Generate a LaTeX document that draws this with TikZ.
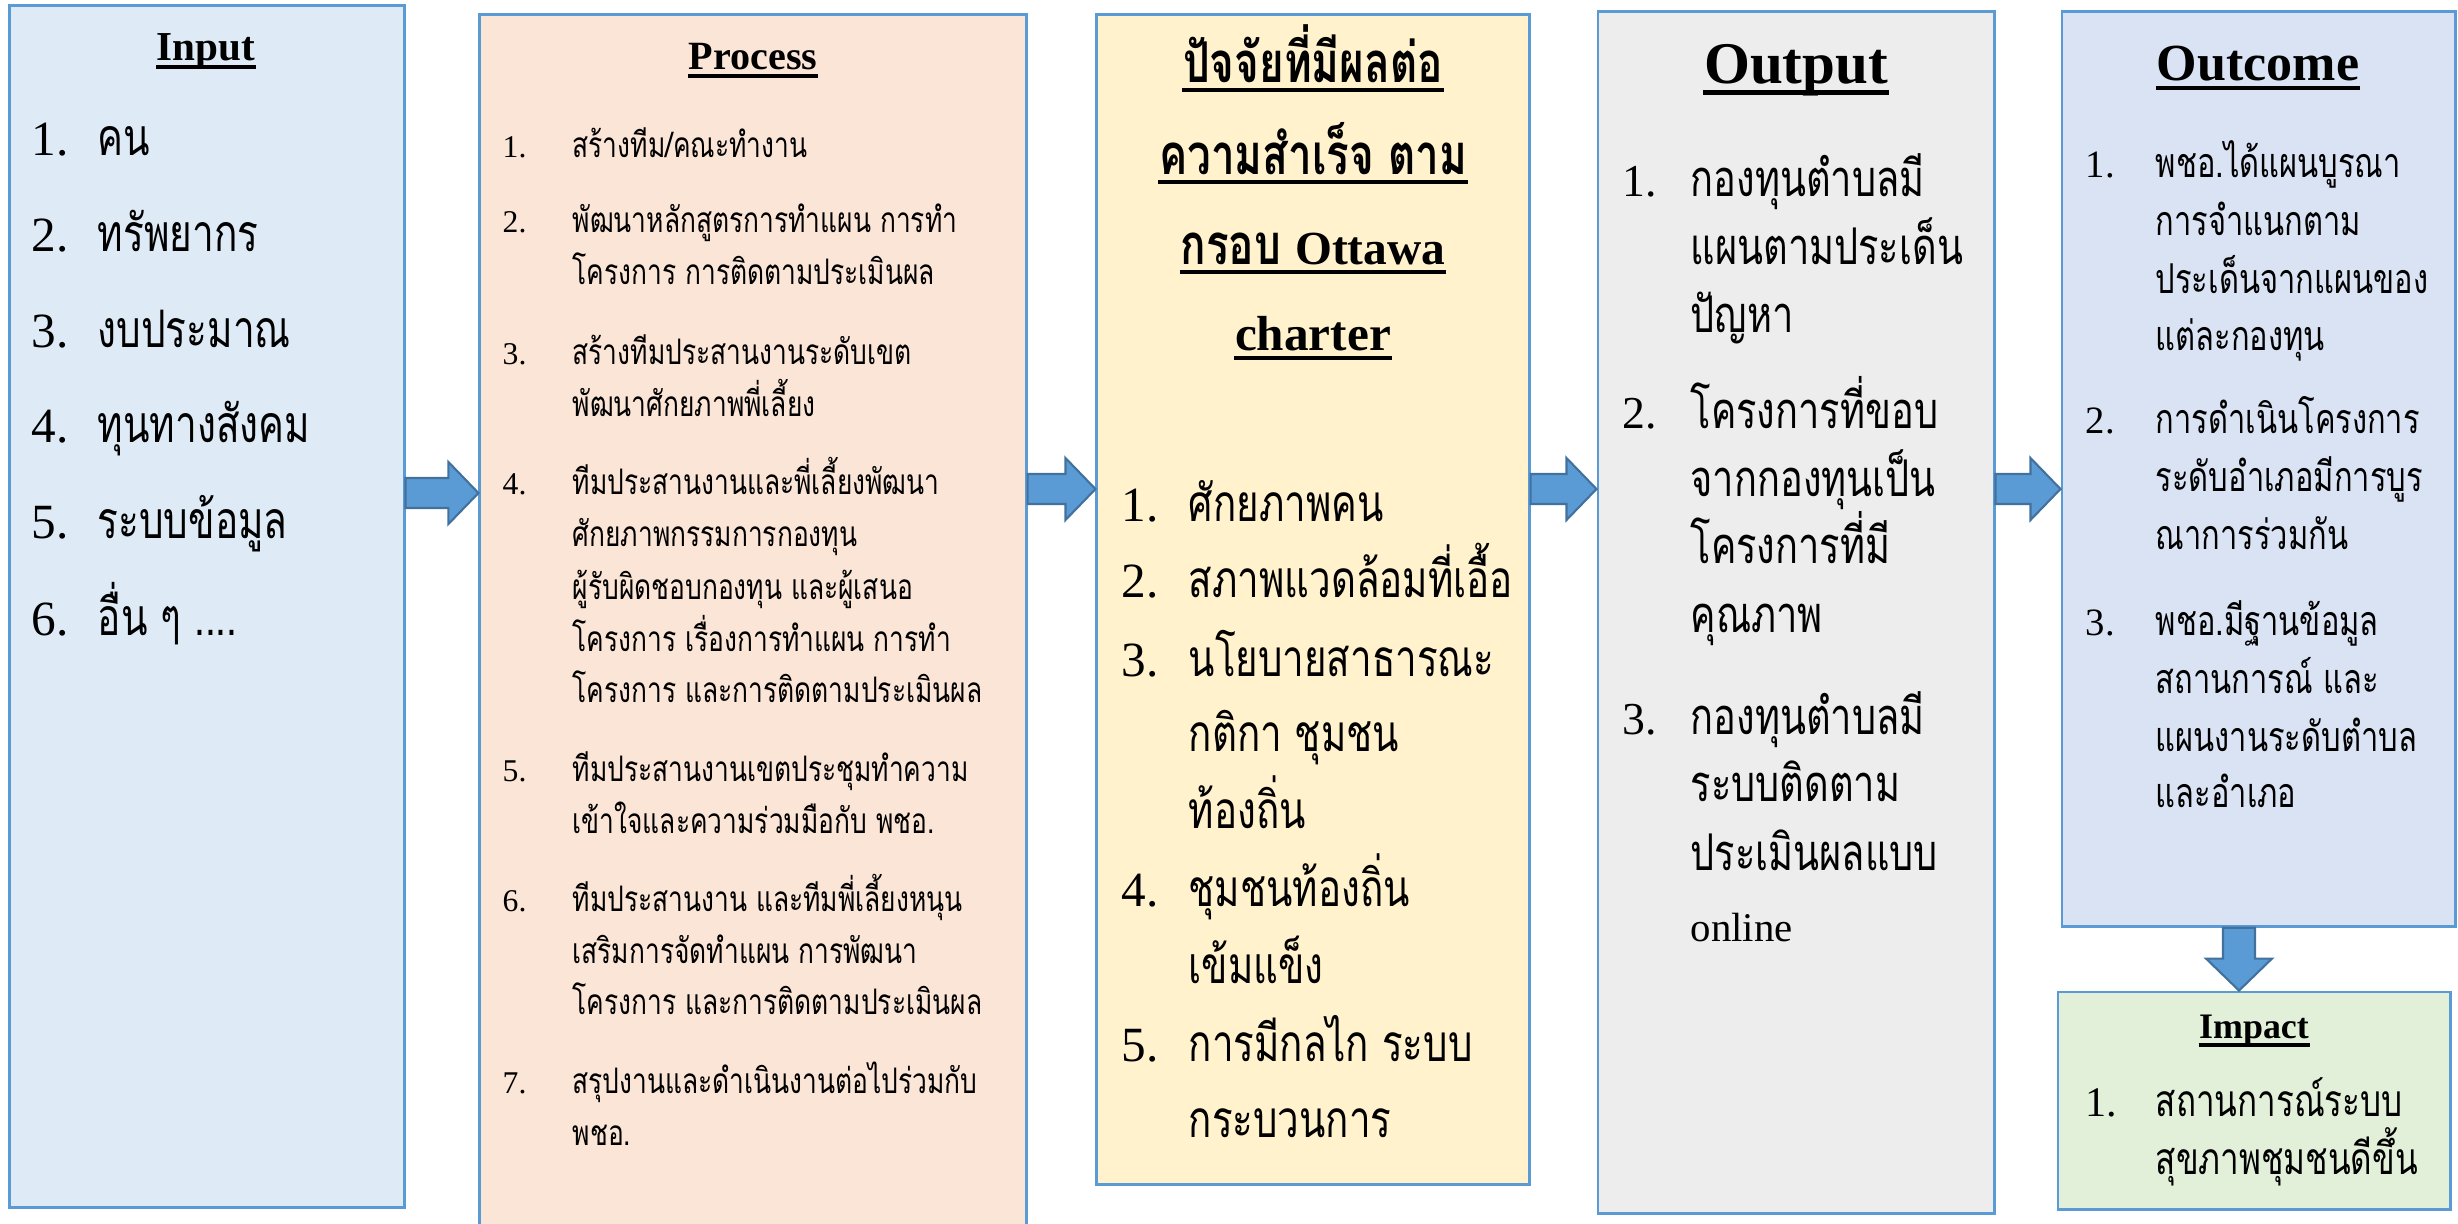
\documentclass[tikz,border=0pt]{standalone}
\usepackage{fontspec}
\setmainfont{Liberation Serif}
\newfontfamily\thr[Script=Thai,FakeStretch=0.75]{Loma}
\usetikzlibrary{calc}
\newcommand\fsz[1]{\fontsize{#1}{#1}\selectfont}
\definecolor{cin}{HTML}{DEEBF7}
\definecolor{cpr}{HTML}{FBE5D6}
\definecolor{cfa}{HTML}{FFF2CC}
\definecolor{cou}{HTML}{EDEDED}
\definecolor{coc}{HTML}{DAE3F3}
\definecolor{cim}{HTML}{E2F0D9}
\definecolor{bord}{HTML}{5B9BD5}
\definecolor{arrf}{HTML}{5B9BD5}
\definecolor{arrd}{HTML}{41719C}
\newcommand\hblockarrow[3]{%
  \path (#1.east |- 0,#3) coordinate (#1-s) (#2.west |- 0,#3) coordinate (#1-e);
  \draw[barrow] ($(#1-s)+(0,-15)$) -- ($(#1-e)+(-30,-15)$) -- ($(#1-e)+(-30,-31)$) -- (#1-e)
     -- ($(#1-e)+(-30,31)$) -- ($(#1-e)+(-30,15)$) -- ($(#1-s)+(0,15)$) -- cycle;}
\begin{document}
\begin{tikzpicture}[x=0.01cm,y=-0.01cm,
  box/.style={draw=bord,line width=0.8pt,rectangle,inner sep=0pt},
  barrow/.style={fill=arrf,draw=arrd,line width=0.6pt},
  tl/.style={anchor=mid west,inner sep=0pt},
  ttl/.style={anchor=mid,inner sep=0pt},
  ul/.style={line width=1.1pt,black},
  fin/.style={font=\thr\fsz{14.7pt}},
  nin/.style={font=\fsz{14pt}},
  fpr/.style={font=\thr\fsz{10pt}},
  npr/.style={font=\fsz{9pt}},
  ffa/.style={font=\thr\fsz{14.6pt}},
  nfa/.style={font=\fsz{14pt}},
  fou/.style={font=\thr\fsz{14.4pt}},
  nou/.style={font=\fsz{13pt}},
  foc/.style={font=\thr\fsz{11.7pt}},
  noc/.style={font=\fsz{11pt}},
  fim/.style={font=\thr\fsz{12.6pt}},
  nim/.style={font=\fsz{12pt}}]
\useasboundingbox (0,0) rectangle (2458,1223);
% boxes
\node[box,fill=cin,minimum width=3.94cm,minimum height=12.01cm] (in) at (207,606.5) {};
\node[box,fill=cpr,minimum width=5.46cm,minimum height=12.3cm] (pr) at (753,630) {};
\node[box,fill=cfa,minimum width=4.32cm,minimum height=11.69cm] (fa) at (1313,599.5) {};
\node[box,fill=cou,minimum width=3.96cm,minimum height=12.01cm] (ou) at (1796,612.5) {};
\node[box,fill=coc,minimum width=3.93cm,minimum height=9.14cm] (oc) at (2258.5,469) {};
\node[box,fill=cim,minimum width=3.92cm,minimum height=2.17cm] (im) at (2254,1100.5) {};
% arrows
\hblockarrow{in}{pr}{493}
\hblockarrow{pr}{fa}{489}
\hblockarrow{fa}{ou}{489}
\hblockarrow{ou}{oc}{489}
\path (oc.south -| 2239,0) coordinate (d-s) (im.north -| 2239,0) coordinate (d-e);
\draw[barrow] ($(d-s)+(-16,0)$) -- ($(d-e)+(-16,-32)$) -- ($(d-e)+(-33,-32)$) -- (d-e)
   -- ($(d-e)+(33,-32)$) -- ($(d-e)+(16,-32)$) -- ($(d-s)+(16,0)$) -- cycle;
% ---------- Input
\node[ttl,font=\bfseries\fsz{11.7pt}] (tin) at (206,52) {Input};
\draw[ul] ($(tin.base west)+(0,7)$) -- ($(tin.base east)+(0,7)$);
\foreach \yy/\nn/\tt [count=\i] in {147/1./คน,243/2./ทรัพยากร,339/3./งบประมาณ,434/4./ทุนทางสังคม,530/5./ระบบข้อมูล}{
  \node[tl,nin] (in-n\i) at (31,\yy) {\nn};
  \node[tl,fin] (in-t\i) at (97,\yy) {\tt};
}
\node[tl,nin] (in-n6) at (31,627) {6.};
\node[tl,fin] (in-t6) at (97,627) {อื่น ๆ ....};
% ---------- Process
\node[ttl,font=\bfseries\fsz{11.4pt}] (tpr) at (753,61) {Process};
\draw[ul] ($(tpr.base west)+(0,7)$) -- ($(tpr.base east)+(0,7)$);
\foreach \yy/\nn [count=\i] in {149/1.,224/2.,356/3.,486/4.,773/5.,903/6.,1085/7.}{
  \node[tl,npr] (pr-n\i) at (502,\yy) {\nn};
}
\node[tl,fpr] (pr-a1) at (572,149) {สร้างทีม/คณะทำงาน};
\foreach \yy/\tt [count=\i] in {224/พัฒนาหลักสูตรการทำแผน การทำ,276/โครงการ การติดตามประเมินผล,
  356/สร้างทีมประสานงานระดับเขต,408/พัฒนาศักยภาพพี่เลี้ยง,
  486/ทีมประสานงานและพี่เลี้ยงพัฒนา,538/ศักยภาพกรรมการกองทุน,591/ผู้รับผิดชอบกองทุน และผู้เสนอ,
  643/โครงการ เรื่องการทำแผน การทำ,694/โครงการ และการติดตามประเมินผล,
  773/ทีมประสานงานเขตประชุมทำความ,825/เข้าใจและความร่วมมือกับ พชอ.,
  903/ทีมประสานงาน และทีมพี่เลี้ยงหนุน,955/เสริมการจัดทำแผน การพัฒนา,1006/โครงการ และการติดตามประเมินผล,
  1085/สรุปงานและดำเนินงานต่อไปร่วมกับ,1137/พชอ.}{
  \node[tl,fpr] (pr-t\i) at (572,\yy) {\tt};
}
% ---------- Factors
\node[ttl,font=\thr\bfseries\fsz{16pt}] (tfa1) at (1313,74) {ปัจจัยที่มีผลต่อ};
\node[ttl,font=\thr\bfseries\fsz{16pt}] (tfa2) at (1313,166) {ความสำเร็จ ตาม};
\node[ttl,font=\fsz{16pt}] (tfa3) at (1313,256) {{\thr\bfseries กรอบ} {\bfseries\fsz{13.5pt}Ottawa}};
\node[ttl,font=\bfseries\fsz{14pt}] (tfa4) at (1313,342) {charter};
\foreach \i in {1,2,3,4}{
  \draw[ul] ($(tfa\i.base west)+(0,8)$) -- ($(tfa\i.base east)+(0,8)$);
}
\foreach \yy/\nn [count=\i] in {513/1.,589/2.,668/3.,898/4.,1053/5.}{
  \node[tl,nfa] (fa-n\i) at (1121,\yy) {\nn};
}
\foreach \yy/\tt [count=\i] in {513/ศักยภาพคน,589/สภาพแวดล้อมที่เอื้อ,668/นโยบายสาธารณะ,743/กติกา ชุมชน,820/ท้องถิ่น,
  898/ชุมชนท้องถิ่น,975/เข้มแข็ง,1053/การมีกลไก ระบบ,1129/กระบวนการ}{
  \node[tl,ffa] (fa-t\i) at (1188,\yy) {\tt};
}
% ---------- Output
\node[ttl,font=\bfseries\fsz{16.8pt}] (tou) at (1796,75) {Output};
\draw[line width=1.4pt] ($(tou.base west)+(0,9)$) -- ($(tou.base east)+(0,9)$);
\foreach \yy/\nn [count=\i] in {188/1.,420/2.,726/3.}{
  \node[tl,nou] (ou-n\i) at (1622,\yy) {\nn};
}
\foreach \yy/\tt [count=\i] in {188/กองทุนตำบลมี,256/แผนตามประเด็น,324/ปัญหา,
  420/โครงการที่ขอบ,488/จากกองทุนเป็น,555/โครงการที่มี,624/คุณภาพ,
  726/กองทุนตำบลมี,793/ระบบติดตาม,862/ประเมินผลแบบ}{
  \node[tl,fou] (ou-t\i) at (1690,\yy) {\tt};
}
\node[tl,font=\fsz{11.6pt}] (ou-t11) at (1690,933) {online};
% ---------- Outcome
\node[ttl,font=\bfseries\fsz{14.8pt}] (toc) at (2258,72) {Outcome};
\draw[line width=1.3pt] ($(toc.base west)+(0,8)$) -- ($(toc.base east)+(0,8)$);
\foreach \yy/\nn [count=\i] in {169/1.,425/2.,627/3.}{
  \node[tl,noc] (oc-n\i) at (2085,\yy) {\nn};
}
\foreach \yy/\tt [count=\i] in {169/พชอ.ได้แผนบูรณา,227/การจำแนกตาม,285/ประเด็นจากแผนของ,342/แต่ละกองทุน,
  425/การดำเนินโครงการ,483/ระดับอำเภอมีการบูร,541/ณาการร่วมกัน,
  627/พชอ.มีฐานข้อมูล,685/สถานการณ์ และ,743/แผนงานระดับตำบล,799/และอำเภอ}{
  \node[tl,foc] (oc-t\i) at (2155,\yy) {\tt};
}
% ---------- Impact
\node[ttl,font=\bfseries\fsz{10.2pt}] (tim) at (2254,1030) {Impact};
\draw[ul] ($(tim.base west)+(0,7)$) -- ($(tim.base east)+(0,7)$);
\node[tl,nim] (im-n1) at (2085,1108) {1.};
\node[tl,fim] (im-t1) at (2155,1108) {สถานการณ์ระบบ};
\node[tl,fim] (im-t2) at (2155,1166) {สุขภาพชุมชนดีขึ้น};
\end{tikzpicture}
\end{document}
